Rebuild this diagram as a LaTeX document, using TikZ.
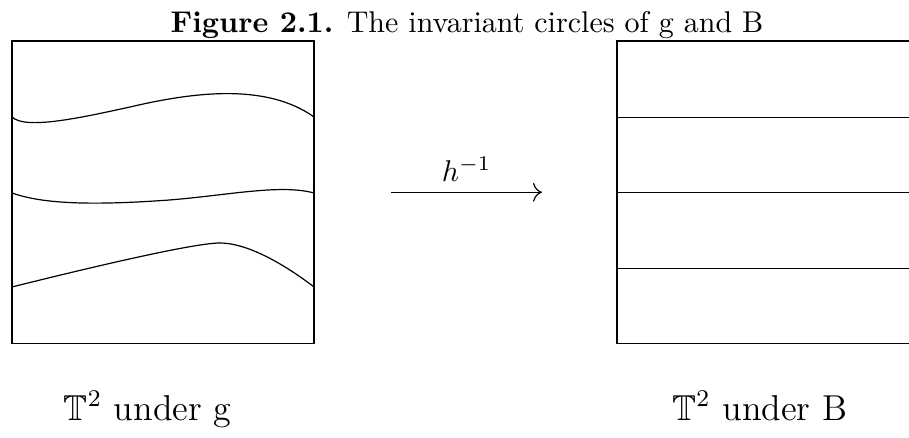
\documentclass[tikz,border=0pt]{standalone}
\usepackage{amsmath}
\usepackage{amssymb}
\usetikzlibrary{arrows.meta}

\begin{document}
\begin{tikzpicture}

\useasboundingbox (0,0) rectangle (10.647,5.130);
\clip (0,0) rectangle (10.647,5.130);

% Title
\node[anchor=base] (title) at (5.47,4.755) {\textbf{Figure 2.1.} The invariant circles of g and B};

% Left torus
\draw (0.141,1.107) rectangle (3.678,4.650);

\draw (0.141,3.760) .. controls (0.293,3.608) and (0.937,3.748) .. (1.523,3.877)
  .. controls (2.225,4.041) and (3.104,4.170) .. (3.678,3.760);
\draw (0.141,2.870) .. controls (0.527,2.729) and (1.171,2.729) .. (1.991,2.788)
  .. controls (2.694,2.846) and (3.280,2.975) .. (3.678,2.870);
\draw (0.141,1.769) .. controls (1.171,2.026) and (2.284,2.284) .. (2.577,2.284)
  .. controls (2.870,2.284) and (3.280,2.073) .. (3.678,1.769);

\node[anchor=base,font=\large] (labg) at (1.73,0.21) {$\mathbb{T}^2$ under g};


% Arrow
\coordinate (from) at (4.580,2.878);
\coordinate (to) at (6.348,2.878);
\draw[-{To[scale=1.2]}] (from) -- node[above] (map) {$h^{-1}$} (to);


% Right torus
\draw (7.227,1.107) rectangle (10.764,4.650);

\draw (7.227,3.757) -- (10.764,3.757);
\draw (7.227,2.873) -- (10.764,2.873);
\draw (7.227,1.989) -- (10.764,1.989);

\node[anchor=base,font=\large] (labB) at (8.90,0.21) {$\mathbb{T}^2$ under B};

\end{tikzpicture}
\end{document}
